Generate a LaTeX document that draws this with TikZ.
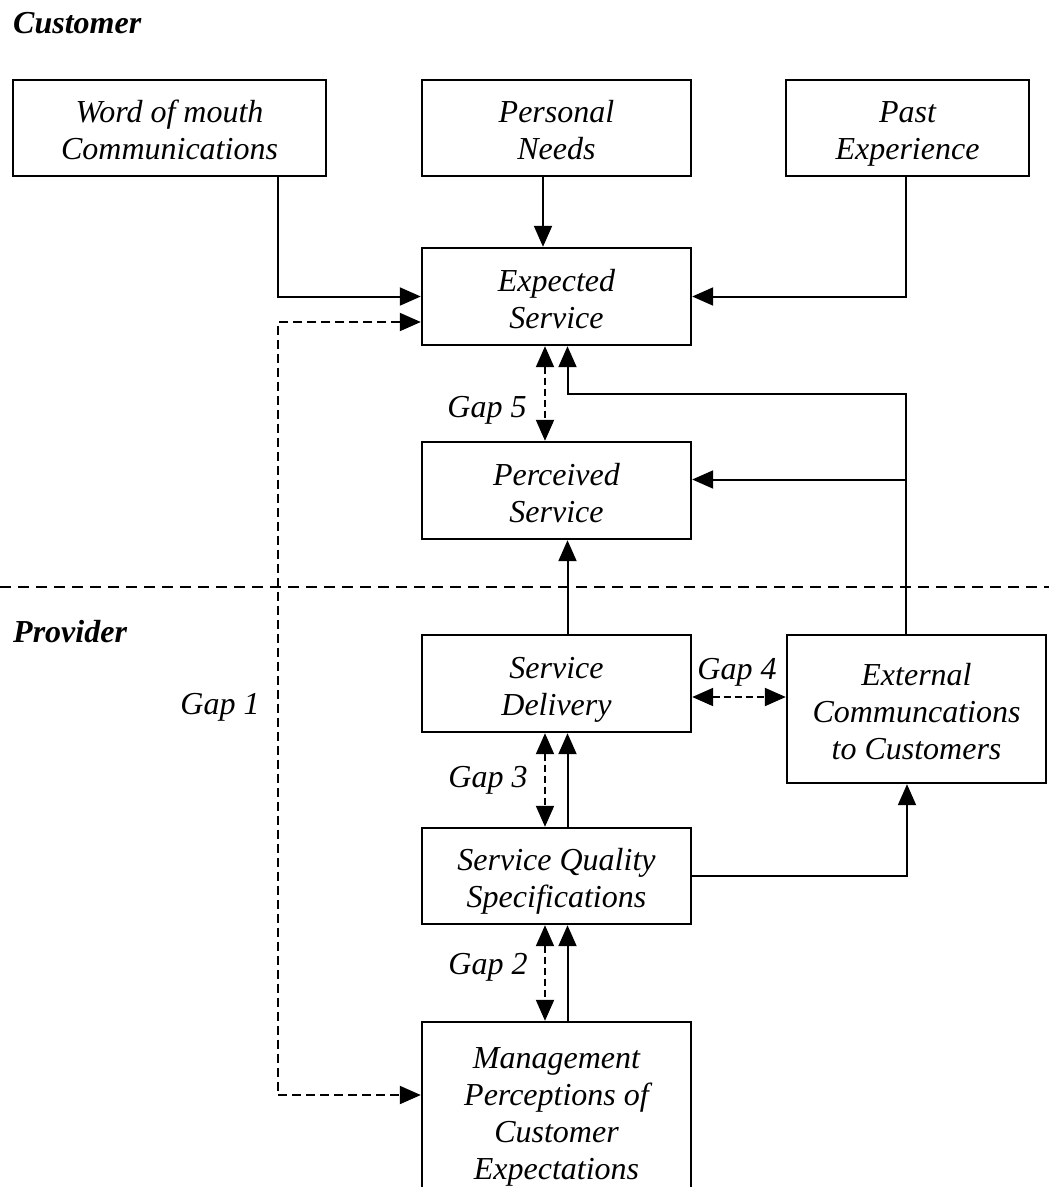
\documentclass[tikz,border=0pt]{standalone}
\usepackage{fontspec}
\setmainfont{Liberation Serif}
\usetikzlibrary{arrows.meta}
\newcommand{\tp}{\rule{0pt}{38pt}}
\begin{document}
\begin{tikzpicture}[x=1pt,y=-1pt,
  box/.style={draw, line width=2.4pt, align=center, inner sep=0pt,
    font=\fontsize{32}{37}\selectfont\itshape},
  lbl/.style={font=\fontsize{32}{37}\selectfont\itshape, inner sep=0pt},
  head/.style={font=\fontsize{32}{37}\selectfont\bfseries\itshape, inner sep=0pt, anchor=base west},
  arr/.style={line width=2pt, -{Triangle[length=21pt,width=18pt]}},
  gaparr/.style={line width=2pt, dash pattern=on 7pt off 4pt,
    {Triangle[length=21pt,width=18pt]}-{Triangle[length=21pt,width=18pt]}},
  sep/.style={line width=2pt, dash pattern=on 11pt off 7pt}]
\useasboundingbox (0,0) rectangle (1049,1187);
\clip (0,0) rectangle (1049,1187);

% headings
\node[head] (cust) at (13,33) {Customer};
\node[head] (prov) at (13,642) {Provider};

% boxes
\node[box, minimum width=313pt, minimum height=96pt] (word) at (169.5,128) {\tp Word of mouth\\\strut Communications};
\node[box, minimum width=269pt, minimum height=96pt] (need) at (556.5,128) {\tp Personal\\\strut Needs};
\node[box, minimum width=243pt, minimum height=96pt] (past) at (907.5,128) {\tp Past\\\strut Experience};
\node[box, minimum width=269pt, minimum height=97pt] (exp) at (556.5,296.5) {\tp Expected\\\strut Service};
\node[box, minimum width=269pt, minimum height=97pt] (perc) at (556.5,490.5) {\tp Perceived\\\strut Service};
\node[box, minimum width=269pt, minimum height=97pt] (del) at (556.5,683.5) {\tp Service\\\strut Delivery};
\node[box, minimum width=259pt, minimum height=148pt] (ext) at (916.5,709) {\tp External\\Communcations\\\strut to Customers};
\node[box, minimum width=269pt, minimum height=96pt] (sqs) at (556.5,876) {\tp Service Quality\\\strut Specifications};
\node[box, minimum width=269pt, minimum height=178pt] (mgmt) at (556.5,1111) {\tp Management\\Perceptions of\\Customer\\\strut Expectations};

% separator
\coordinate (sl) at (0,587);
\coordinate (sr) at (1049,587);
\draw[sep] (sl) -- (sr);

% customer side inputs
\draw[arr] ([xshift=108.5pt]word.south) |- (exp.west);
\draw[arr] ([xshift=-13.5pt]need.south) -- ([xshift=-13.5pt]exp.north);
\draw[arr] ([xshift=-1.5pt]past.south) |- (exp.east);

% gap 5
\draw[gaparr] ([xshift=-11.5pt]exp.south) -- ([xshift=-11.5pt]perc.north);
\node[lbl] (g5) at (487,410) {Gap 5};

% external communications to expected and perceived
\draw[arr] ([xshift=-10.5pt]ext.north) -- ++(0,-240) -| ([xshift=11pt]exp.south);
\coordinate (j) at (906,479.5);
\draw[arr] (j) -- (perc.east |- j);

% delivery to perceived
\draw[arr] ([xshift=11pt]del.north) -- ([xshift=11pt]perc.south);

% gap 4
\coordinate (g4a) at (691,697);
\draw[gaparr] (del.east |- g4a) -- (ext.west |- g4a);
\node[lbl] (g4) at (737,672) {Gap 4};

% gap 3
\draw[gaparr] ([xshift=-11.5pt]del.south) -- ([xshift=-11.5pt]sqs.north);
\draw[arr] ([xshift=11pt]sqs.north) -- ([xshift=11pt]del.south);
\node[lbl] (g3) at (488,780) {Gap 3};

% specs to external
\draw[arr] (sqs.east) -| ([xshift=-9.5pt]ext.south);

% gap 2
\draw[gaparr] ([xshift=-11.5pt]sqs.south) -- ([xshift=-11.5pt]mgmt.north);
\draw[arr] ([xshift=11pt]mgmt.north) -- ([xshift=11pt]sqs.south);
\node[lbl] (g2) at (488,967) {Gap 2};

% gap 1
\draw[gaparr, dash pattern=on 9pt off 5pt] ([yshift=-25.5pt]exp.west) -- ++(-143,0) |- ([yshift=16pt]mgmt.west);
\node[lbl] (g1) at (220,707) {Gap 1};
\end{tikzpicture}
\end{document}
